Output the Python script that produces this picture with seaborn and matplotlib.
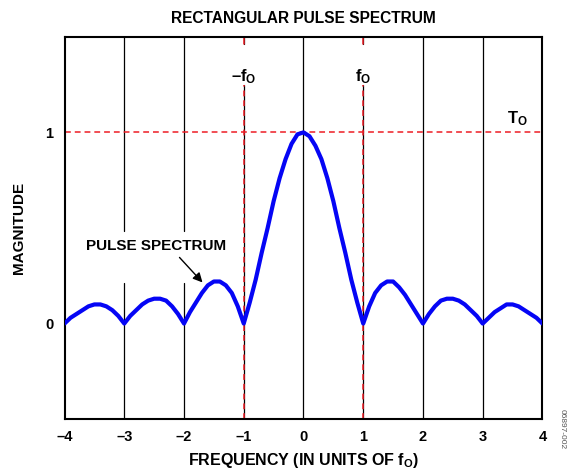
import numpy as np
import pandas as pd
import matplotlib
matplotlib.use("Agg")
import matplotlib.pyplot as plt
import seaborn as sns

# Data (|spectrum| of a rectangular pulse)
freq = [-4.0, -3.9, -3.8, -3.7, -3.6, -3.5, -3.4, -3.3, -3.2, -3.1,
        -3.0, -2.9, -2.8, -2.7, -2.6, -2.5, -2.4, -2.3, -2.2, -2.1,
        -2.0, -1.9, -1.8, -1.7, -1.6, -1.5, -1.4, -1.3, -1.2, -1.1,
        -1.0, -0.9, -0.8, -0.7, -0.6, -0.5, -0.4, -0.3, -0.2, -0.1,
        0.0, 0.1, 0.2, 0.3, 0.4, 0.5, 0.6, 0.7, 0.8, 0.9,
        1.0, 1.1, 1.2, 1.3, 1.4, 1.5, 1.6, 1.7, 1.8, 1.9,
        2.0, 2.1, 2.2, 2.3, 2.4, 2.5, 2.6, 2.7, 2.8, 2.9,
        3.0, 3.1, 3.2, 3.3, 3.4, 3.5, 3.6, 3.7, 3.8, 3.9, 4.0]
magnitude = [0.00, 0.03, 0.05, 0.07, 0.09, 0.10, 0.10, 0.09, 0.07, 0.04,
             0.00, 0.04, 0.07, 0.10, 0.12, 0.13, 0.13, 0.12, 0.09, 0.05,
             0.00, 0.06, 0.11, 0.16, 0.20, 0.22, 0.22, 0.20, 0.16, 0.09,
             0.00, 0.11, 0.23, 0.37, 0.50, 0.64, 0.76, 0.86, 0.94, 0.99,
             1.00, 0.98, 0.93, 0.86, 0.76, 0.64, 0.50, 0.37, 0.23, 0.11,
             0.00, 0.09, 0.16, 0.20, 0.22, 0.22, 0.19, 0.15, 0.10, 0.05,
             0.00, 0.05, 0.09, 0.12, 0.13, 0.13, 0.12, 0.10, 0.07, 0.04,
             0.00, 0.03, 0.06, 0.08, 0.10, 0.10, 0.09, 0.07, 0.05, 0.03, 0.00]
x_ticks = [-4, -3, -2, -1, 0, 1, 2, 3, 4]
x_tick_labels = ["–4", "–3", "–2", "–1", "0", "1", "2", "3", "4"]
y_ticks = [0, 1]
y_tick_labels = ["0", "1"]
grid_x = [-3, -2, 0, 2, 3]
marker_x = [-1, 1]
marker_labels = ["–f$_\\mathbf{O}$", "f$_\\mathbf{O}$"]

sns.set_style("white")
plt.rcParams["font.family"] = ["Liberation Sans", "DejaVu Sans"]
plt.rcParams["mathtext.fontset"] = "custom"
plt.rcParams["mathtext.rm"] = "Liberation Sans:bold"
plt.rcParams["mathtext.bf"] = "Liberation Sans:bold"
plt.rcParams["mathtext.it"] = "Liberation Sans:bold"
plt.rcParams["mathtext.default"] = "bf"
for key in ("text.color", "axes.labelcolor", "xtick.color", "ytick.color"):
    plt.rcParams[key] = "black"

RED = "#ee1c24"

fig = plt.figure(figsize=(5.71, 4.72), dpi=100)
ax = fig.add_axes([0.113, 0.112, 0.837, 0.810])

ax.set_xlim(-4, 4)
ax.set_ylim(-0.5, 1.5)

# black vertical grid lines (with gaps where labels sit)
for gx in grid_x:
    if gx in (-3, -2):
        ax.plot([gx, gx], [-0.5, 0.21], color="black", lw=0.9, zorder=1)
        ax.plot([gx, gx], [0.485, 1.5], color="black", lw=0.9, zorder=1)
    else:
        ax.plot([gx, gx], [-0.5, 1.5], color="black", lw=0.9, zorder=1)
for mx in marker_x:
    ax.plot([mx, mx], [-0.5, 1.25], color="black", lw=0.9, zorder=1)
    ax.plot([mx, mx], [1.465, 1.5], color="black", lw=0.9, zorder=1)
    ax.plot([mx, mx], [-0.5, 1.25], color=RED, lw=1.1,
            dashes=(3.8, 2.6), zorder=2)
    ax.plot([mx, mx], [1.465, 1.5], color=RED, lw=1.1, zorder=2)

ax.axhline(1, color=RED, lw=1.1, dashes=(3.8, 2.6), zorder=2)

df = pd.DataFrame({"freq": freq, "magnitude": magnitude})
sns.lineplot(data=df, x="freq", y="magnitude", ax=ax, color="#0505f5",
             lw=3.0, zorder=3)

for mx, lab in zip(marker_x, marker_labels):
    ax.text(mx, 1.29, lab, ha="center", va="center", fontsize=12,
            fontweight="bold")
ax.text(3.58, 1.07, "T$_\\mathbf{O}$", ha="center", va="center",
        fontsize=12, fontweight="bold")

ax.annotate("PULSE SPECTRUM", xy=(-1.69, 0.215), xytext=(-2.47, 0.405),
            ha="center", va="center", fontsize=11, fontweight="bold",
            arrowprops=dict(arrowstyle="-|>", color="black", lw=1.0,
                            mutation_scale=14, shrinkA=1, shrinkB=0,
                            relpos=(0.64, 0.0)))

ax.set_xticks(x_ticks)
ax.set_xticklabels(x_tick_labels, fontsize=10.5, fontweight="bold")
ax.set_yticks(y_ticks)
ax.set_yticklabels(y_tick_labels, fontsize=10.5, fontweight="bold")
ax.tick_params(length=0, pad=8)
ax.set_xlabel("FREQUENCY (IN UNITS OF f$_\\mathbf{O}$)", fontsize=11.5,
              fontweight="bold", labelpad=5)
ax.set_ylabel("MAGNITUDE", fontsize=11, fontweight="bold", labelpad=14)
ax.set_title("RECTANGULAR PULSE SPECTRUM", fontsize=11.2, fontweight="bold",
             pad=10)

for sp in ax.spines.values():
    sp.set_visible(True)
    sp.set_color("black")
    sp.set_linewidth(1.5)

fig.text(0.985, 0.09, "06897-002", rotation=270, ha="center", va="center",
         fontsize=6, color="#555555")

fig.savefig("out.png", dpi=100)
